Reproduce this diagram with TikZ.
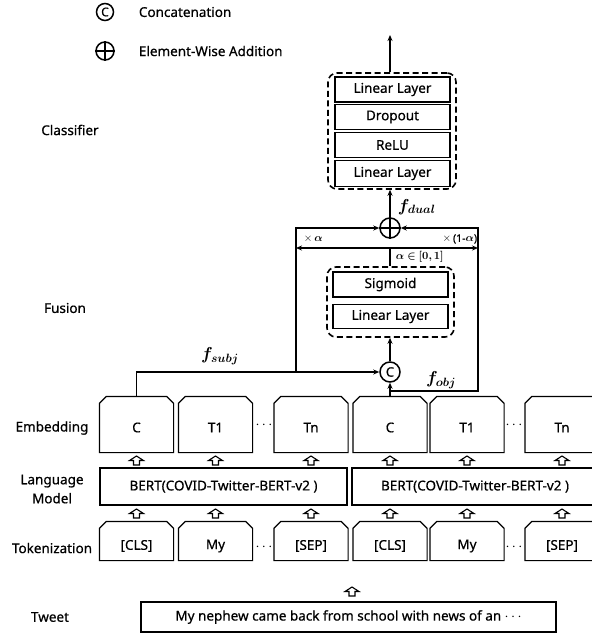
\documentclass[tikz,border=0pt]{standalone}
\usepackage{bm}
\usepackage{fontspec}
\setmainfont{Noto Sans}[FakeBold=0.6]
\newfontfamily\medfont{Noto Sans}[FakeBold=0.6]
\usetikzlibrary{arrows.meta}
\begin{document}
\begin{tikzpicture}[x=1pt,y=-1pt,
  font=\medfont\fontsize{13.5}{16}\selectfont,
  line width=1.2pt,
  >={Stealth[length=6pt,width=5pt]},
  lay/.style={draw, line width=1.5pt, minimum width=115pt, inner sep=0pt},
  dashbox/.style={draw, dash pattern=on 6pt off 3.5pt, rounded corners=9pt, line width=1.6pt, inner sep=0pt},
  chbox/.style={inner sep=0pt, minimum width=73pt},
  plainbox/.style={draw, line width=1.3pt, inner sep=0pt},
  opcirc/.style={circle, draw, line width=1.5pt, minimum size=20pt, inner sep=0pt},
  lab/.style={align=center},
  small/.style={font=\medfont\fontsize{10.5}{11}\selectfont},
  fl/.style={font=\fontsize{16.5}{18}\selectfont},
  dotsty/.style={font=\fontsize{15}{15}\selectfont},
  uparr/.pic={\draw[line width=1.1pt, fill=white, line join=miter] (-3,9) -- (-3,4.5) -- (-7,4.5) -- (0,0) -- (7,4.5) -- (3,4.5) -- (3,9) -- cycle;}
]
\useasboundingbox (0,0) rectangle (592,635);

% legend
\node[opcirc, minimum size=17pt, font=\fontsize{12}{12}\selectfont\bfseries] (lgc) at (105,12) {C};
\node[anchor=west] (lgct) at (135,12) {Concatenation};
\node[opcirc, minimum size=18pt] (lgp) at (105,51) {};
\draw[line width=1.5pt] (lgp.north) -- (lgp.south) (lgp.west) -- (lgp.east);
\node[anchor=west] (lgpt) at (135,51) {Element-Wise Addition};

% row labels
\node[lab] (lcls) at (70,130) {Classifier};
\node[lab] (lfus) at (65,308) {Fusion};
\node[lab] (lemb) at (52,428) {Embedding};
\node[lab, align=center, font=\medfont\fontsize{13.5}{19}\selectfont] (llm) at (52,489) {Language\\Model};
\node[lab] (ltok) at (52,548) {Tokenization};
\node[lab] (ltw) at (50,617) {Tweet};

% classifier
\node[dashbox, minimum width=128pt, minimum height=116pt] (cls) at (392,131) {};
\node[lay, minimum height=25pt] (c1) at (392.5,89.5) {Linear Layer};
\node[lay, minimum height=25pt] (c2) at (392.5,117) {Dropout};
\node[lay, minimum height=25pt] (c3) at (392.5,145) {ReLU};
\node[lay, minimum height=26pt] (c4) at (392.5,173.5) {Linear Layer};
\coordinate (out) at (390,35);
\draw[->] (cls.north -| out) -- (out);

% addition
\node[opcirc] (plus) at (390,228) {};
\draw[line width=1.5pt] (plus.north) -- (plus.south) (plus.west) -- (plus.east);
\draw[->] (plus.north) -- (cls.south -| plus);
\node[fl, anchor=west] (fdual) at (394,207) {$\bm{f}_{\bm{dual}}$};

% fusion
\node[dashbox, minimum width=127pt, minimum height=70pt] (fus) at (390.5,302) {};
\node[lay, minimum height=25pt] (sig) at (390.5,284.5) {Sigmoid};
\node[lay, minimum height=24pt] (fl1) at (390.5,316.5) {Linear Layer};

% concatenation
\node[opcirc, font=\fontsize{13}{13}\selectfont\bfseries] (cat) at (390,372) {C};
\draw[->] (cat.north) -- (fus.south -| cat);

% embedding boxes
\foreach \n/\x/\t in {e1/136.5/C, e2/215.5/T1, e3/311/Tn, e4/390/C, e5/467/T1, e6/562/Tn}{
  \node[chbox, minimum height=55pt, label={[yshift=-3pt]center:\t}] (\n) at (\x,424.5) {};
  \draw (\n.south west) -- ([yshift=-7pt]\n.north west) -- ([xshift=7pt]\n.north west) -- ([xshift=-7pt]\n.north east) -- ([yshift=-7pt]\n.north east) -- (\n.south east) -- cycle;
  \pic at (\x,456) {uparr};
  \pic at (\x,509) {uparr};
}
\node[dotsty] (ed1) at (264,425) {$\cdots$};
\node[dotsty] (ed2) at (514,425) {$\cdots$};

% token boxes
\foreach \n/\x/\t in {t1/136.5/{[CLS]}, t2/215.5/My, t3/311/{[SEP]}, t4/390/{[CLS]}, t5/467/My, t6/562/{[SEP]}}{
  \node[chbox, minimum height=38pt, label={[yshift=-5pt]center:\t}] (\n) at (\x,541) {};
  \draw (\n.south west) -- ([yshift=-7pt]\n.north west) -- ([xshift=7pt]\n.north west) -- ([xshift=-7pt]\n.north east) -- ([yshift=-7pt]\n.north east) -- (\n.south east) -- cycle;
}
\node[dotsty] (td1) at (264,547) {$\cdots$};
\node[dotsty] (td2) at (514,547) {$\cdots$};

% BERT boxes
\node[plainbox, minimum width=247pt, minimum height=37pt] (b1) at (223.5,486.5) {BERT(COVID-Twitter-BERT-v2 )};
\node[plainbox, minimum width=246pt, minimum height=37pt] (b2) at (475,486.5) {BERT(COVID-Twitter-BERT-v2 )};

% tweet
\pic at (352,587) {uparr};
\node[plainbox, minimum width=415pt, minimum height=30pt] (tw) at (348.5,617) {My nephew came back from school with news of an $\cdots$};

% connectors
\coordinate (lb) at (296,372);
\coordinate (rb) at (478,391);
\draw[->] (e1.north) |- (cat.west);
\draw[->] (lb) |- (plus.west);
\draw[->] (e4.north) -- (cat.south);
\draw[->] (e4.north |- rb) -- (rb) |- (plus.east);
\coordinate (al) at (296,248);
\coordinate (ar) at (478,248);
\coordinate (am) at (390,248);
\draw[<->] (al) -- (ar);
\draw (am) -- (fus.north -| am);

\node[small, anchor=west] (xa) at (300,239) {$\times\,\bm{\alpha}$};
\node[small, anchor=east] (xb) at (481,239) {$\times\,$\textbf{(1-}$\bm{\alpha}$\textbf{)}};
\node[small, anchor=west] (ar01) at (392,257) {$\bm{\alpha\in[0,1]}$};
\node[fl] (fsubj) at (220,356) {$\bm{f}_{\bm{subj}}$};
\node[fl] (fobj) at (441,380) {$\bm{f}_{\bm{obj}}$};
\end{tikzpicture}
\end{document}
